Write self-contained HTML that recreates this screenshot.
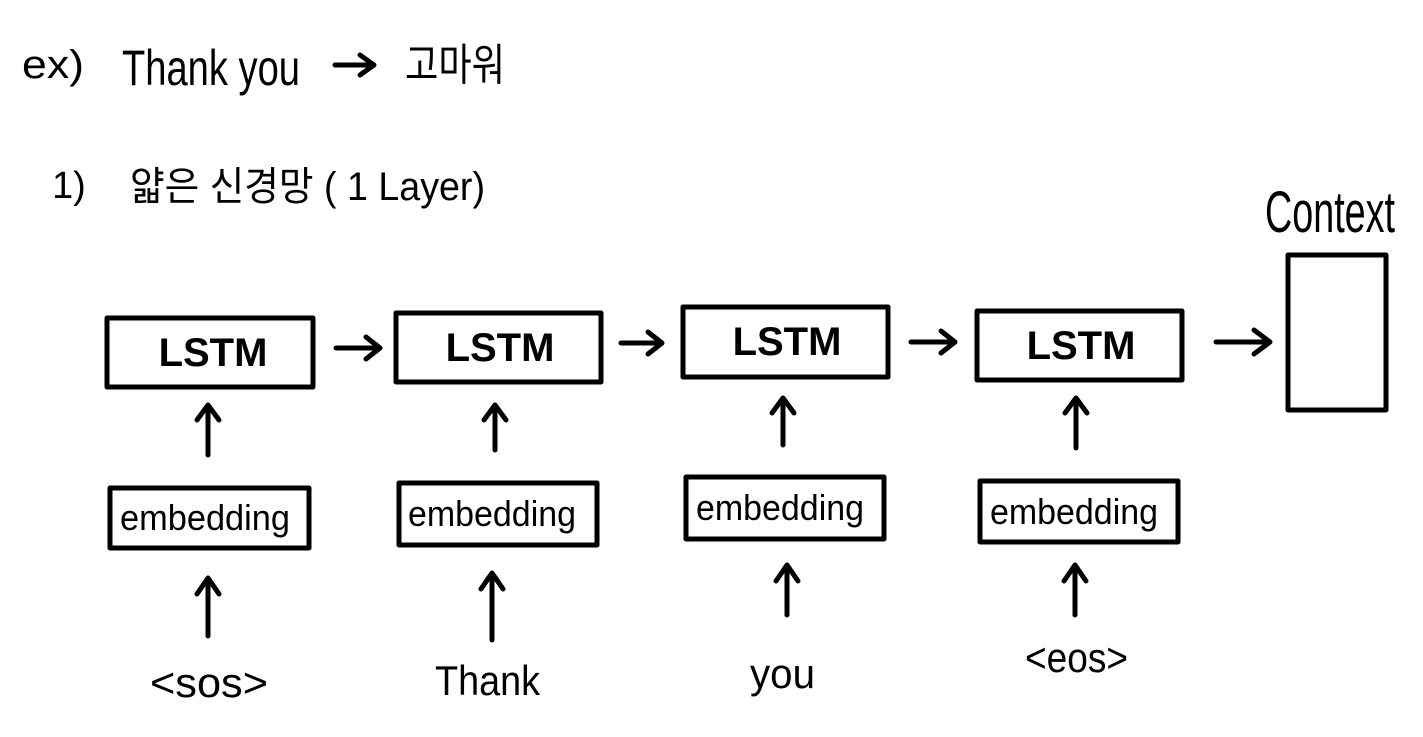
<!DOCTYPE html>
<html><head><meta charset="utf-8"><style>
html,body{margin:0;padding:0;background:#fff;}
svg{display:block;}
text{font-family:"Liberation Sans","Noto Sans CJK KR",sans-serif;fill:#000;}
</style></head><body>
<svg width="1423" height="737" viewBox="0 0 1423 737" xmlns="http://www.w3.org/2000/svg">
<g fill="none" stroke="#000" stroke-width="5" stroke-linecap="round" stroke-linejoin="round">
<rect x="107" y="318" width="206" height="69"/>
<rect x="396" y="313" width="205" height="69"/>
<rect x="683" y="307" width="205" height="70"/>
<rect x="977" y="311" width="205" height="69"/>
<rect x="1288" y="255" width="98" height="155"/>
<rect x="110" y="488" width="199" height="60"/>
<rect x="399" y="483" width="198" height="62"/>
<rect x="686" y="477" width="198" height="62"/>
<rect x="980" y="481" width="198" height="61"/>
<path d="M208 455V407M197 420L208 405L219 420"/>
<path d="M495 450V407M484 420L495 405L506 420"/>
<path d="M783 445V400M772 413L783 398L794 413"/>
<path d="M1076 448V400M1065 413L1076 398L1087 413"/>
<path d="M208 636V580M197 594L208 578L219 594"/>
<path d="M492 640V575M481 589L492 573L503 589"/>
<path d="M787 615V567M776 581L787 565L798 581"/>
<path d="M1075 615V567M1064 581L1075 565L1086 581"/>
<path d="M336 348H378M366 337L380 348L366 359"/>
<path d="M621 343H660M648 332L662 343L648 354"/>
<path d="M911 342H953M941 331L955 342L941 353"/>
<path d="M1216 342H1268M1254 330L1270 342L1254 354"/>
<path d="M335 65H372M360 55L374 65L360 75"/>
</g>
<g font-size="40" text-anchor="middle" font-weight="bold">
<text x="213" y="366">LSTM</text>
<text x="500" y="361">LSTM</text>
<text x="787" y="355">LSTM</text>
<text x="1081" y="359">LSTM</text>
</g>
<g font-size="36">
<text x="120" y="530" textLength="170" lengthAdjust="spacingAndGlyphs">embedding</text>
<text x="408" y="526" textLength="168" lengthAdjust="spacingAndGlyphs">embedding</text>
<text x="696" y="520" textLength="168" lengthAdjust="spacingAndGlyphs">embedding</text>
<text x="990" y="524" textLength="168" lengthAdjust="spacingAndGlyphs">embedding</text>
</g>
<g font-size="42">
<text x="150" y="697" textLength="118" lengthAdjust="spacingAndGlyphs">&lt;sos&gt;</text>
<text x="435" y="695" textLength="105" lengthAdjust="spacingAndGlyphs">Thank</text>
<text x="750" y="688" textLength="65" lengthAdjust="spacingAndGlyphs">you</text>
<text x="1025" y="672" textLength="103" lengthAdjust="spacingAndGlyphs">&lt;eos&gt;</text>
</g>
<text x="1265" y="232" font-size="58" textLength="130" lengthAdjust="spacingAndGlyphs">Context</text>
<text x="22" y="78" font-size="40" textLength="62" lengthAdjust="spacingAndGlyphs">ex)</text>
<text x="122" y="85" font-size="50" textLength="178" lengthAdjust="spacingAndGlyphs">Thank you</text>
<text x="405" y="80" font-size="44" textLength="100" lengthAdjust="spacingAndGlyphs">고마워</text>
<text x="52" y="198" font-size="38">1)</text>
<text x="130" y="200" font-size="40" textLength="355" lengthAdjust="spacingAndGlyphs">얇은 신경망 ( 1 Layer)</text>
</svg>
</body></html>
